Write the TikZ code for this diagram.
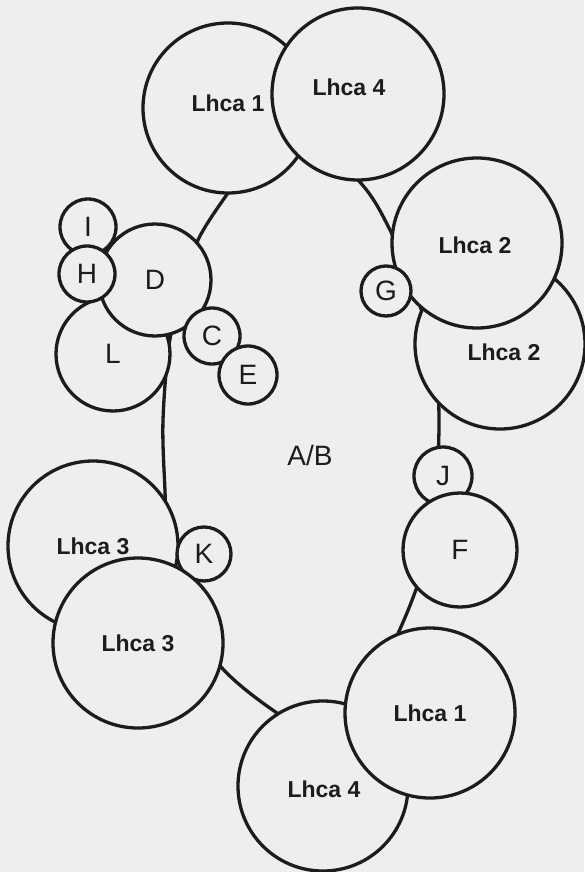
\documentclass[tikz,border=0pt]{standalone}
\usepackage{fontspec}
\setmainfont{Liberation Sans}
\definecolor{bg}{RGB}{238,238,238}
\definecolor{ink}{RGB}{28,28,28}
\tikzset{
  disc/.style={circle, draw=ink, fill=bg, line width=3.3pt, inner sep=0pt, text=ink},
  lhca/.style={disc, minimum size=170pt, font=\fontsize{23}{23}\selectfont\bfseries},
  midc/.style={disc, minimum size=114pt, font=\fontsize{28}{28}\selectfont},
  smallc/.style={disc, minimum size=56pt, font=\fontsize{28}{28}\selectfont},
  tag/.style={text=ink, font=\fontsize{23}{23}\selectfont\bfseries},
  outline/.style={draw=ink, line width=3.3pt}
}
\begin{document}
\begin{tikzpicture}[x=1pt,y=-1pt]
\fill[bg] (0,0) rectangle (584,872);
\useasboundingbox (0,0) rectangle (584,872);

% core complex outline
\draw[outline] plot[smooth cycle, tension=0.55] coordinates {
  (293,128) (358,180) (390,230) (418,300) (435,360) (439,420)
  (436,490) (428,550) (414,595) (395,640) (365,700) (325,738)
  (277,713) (222,668) (185,610) (168,550) (165,491) (163,420)
  (170,339) (185,285) (198,240) (228,193) (260,152)};
\node[text=ink, font=\fontsize{28}{28}\selectfont] (ab) at (310,455) {A/B};

% upper antenna pair
\node[lhca, label={[tag, yshift=5pt]center:Lhca 1}] (l1a) at (228,108) {};
\node[lhca, minimum size=172pt, label={[tag, xshift=-9pt, yshift=7pt]center:Lhca 4}] (l4a) at (358,94) {};

% right antenna pair
\node[lhca, label={[tag, xshift=4pt, yshift=-8pt]center:Lhca 2}] (l2b) at (500,344) {};
\node[lhca, label={[tag, xshift=-2pt, yshift=-2pt]center:Lhca 2}] (l2a) at (477,243) {};
\node[smallc, minimum size=50pt] (g) at (386,291) {G};

% left cluster
\node[midc] (l) at (113,354) {L};
\node[midc, minimum size=112pt] (d) at (155,280) {D};
\node[smallc] (i) at (88,227) {I};
\node[smallc] (h) at (87,274) {H};
\node[smallc] (c) at (212,336) {C};
\node[smallc, minimum size=58pt] (e) at (248,375) {E};

% right small subunits
\node[smallc, minimum size=58pt] (j) at (443,476) {J};
\node[midc] (f) at (460,550) {F};

% lower left antenna pair
\node[lhca, label={[tag]center:Lhca 3}] (l3a) at (93,546) {};
\node[smallc, minimum size=54pt] (k) at (204,554) {K};
\node[lhca, label={[tag]center:Lhca 3}] (l3b) at (138,643) {};

% bottom antenna pair
\node[lhca, label={[tag, xshift=1pt, yshift=-3pt]center:Lhca 4}] (l4b) at (323,786) {};
\node[lhca, label={[tag]center:Lhca 1}] (l1b) at (430,713) {};
\end{tikzpicture}
\end{document}
